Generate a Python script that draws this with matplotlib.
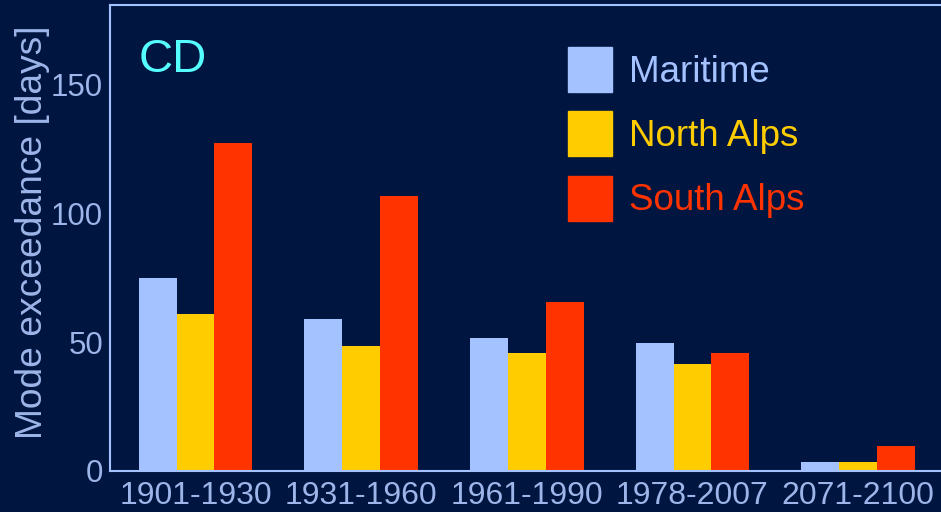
import numpy as np
import matplotlib
matplotlib.use("Agg")
import matplotlib.pyplot as plt
from matplotlib.patches import Patch

periods = ["1901-1930", "1931-1960", "1961-1990", "1978-2007", "2071-2100"]
maritime = [75.0, 59.1, 51.7, 49.7, 3.5]
north_alps = [61.0, 48.6, 45.9, 41.6, 3.5]
south_alps = [127.5, 106.9, 65.7, 45.9, 9.7]
yticks = [0, 50, 100, 150]

bg = "#001540"
txt = "#9DB5E8"
c_mar = "#A4C2FF"
c_nor = "#FFCC00"
c_sou = "#FF3300"

plt.rcParams["font.family"] = ["Liberation Sans", "DejaVu Sans"]

fig = plt.figure(figsize=(9.41, 5.12), dpi=100, facecolor=bg)
ax = fig.add_axes([110 / 941, 41 / 512, 831 / 941, 466 / 512], facecolor=bg)

x = np.arange(len(periods))
w = 0.229
ax.bar(x - w, maritime, w, color=c_mar, label="Maritime")
ax.bar(x, north_alps, w, color=c_nor, label="North Alps")
ax.bar(x + w, south_alps, w, color=c_sou, label="South Alps")

ax.set_xlim(-0.516, 4.5)
ax.set_ylim(0, 181)
ax.set_xticks(x)
ax.set_xticklabels(periods)
ax.set_yticks(yticks)
ax.tick_params(length=0, labelsize=23, colors=txt)
ax.tick_params(axis="x", pad=7)
ax.tick_params(axis="y", labelsize=22.5, pad=5)
ax.set_ylabel("Mode exceedance [days]", fontsize=26.7, color=txt)
ax.yaxis.set_label_coords(-0.072, 0.513)

for s in ["left", "top", "bottom"]:
    ax.spines[s].set_color(c_mar)
    ax.spines[s].set_linewidth(1.5)
ax.spines["right"].set_visible(False)

ax.text(0.035, 0.93, "CD", transform=ax.transAxes, fontsize=34,
        color="#55FFFF", va="top", ha="left")

handles = [Patch(color=c_mar), Patch(color=c_nor), Patch(color=c_sou)]
ax.legend(handles, ["Maritime", "North Alps", "South Alps"],
          loc="upper left", bbox_to_anchor=(568 / 941, 1 - 47 / 512),
          bbox_transform=fig.transFigure, frameon=False, fontsize=26.5,
          labelcolor=[c_mar, c_nor, c_sou], handlelength=1.2,
          handleheight=1.5, labelspacing=0.53, handletextpad=0.46,
          borderpad=0, borderaxespad=0)

fig.savefig("out.png", dpi=100, facecolor=bg)
